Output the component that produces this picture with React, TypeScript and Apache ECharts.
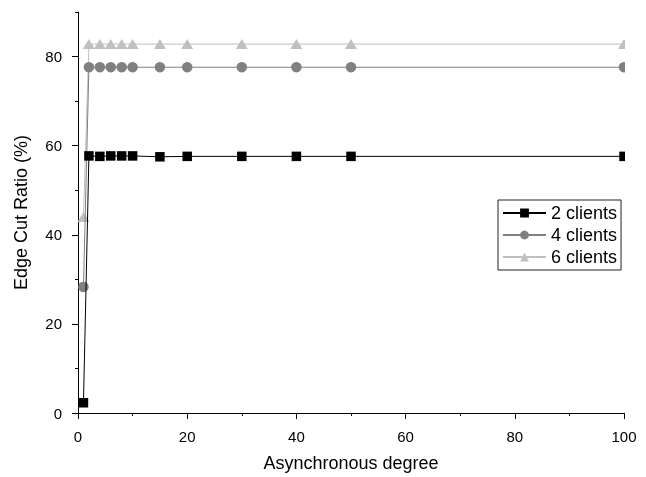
import React, { useEffect, useRef } from "react";
import * as echarts from "echarts";

const degrees = [1, 2, 4, 6, 8, 10, 15, 20, 30, 40, 50, 100];
const clients2 = [2.3, 57.7, 57.6, 57.7, 57.7, 57.7, 57.5, 57.6, 57.6, 57.6, 57.6, 57.6];
const clients4 = [28.3, 77.6, 77.6, 77.6, 77.6, 77.6, 77.6, 77.6, 77.6, 77.6, 77.6, 77.6];
const clients6 = [44.0, 82.8, 82.8, 82.8, 82.8, 82.8, 82.8, 82.8, 82.8, 82.8, 82.8, 82.8];
const seriesNames = ["2 clients", "4 clients", "6 clients"];
const yLabels = [0, 20, 40, 60, 80];

const FONT = "'Liberation Sans', Arial, sans-serif";

export default function App() {
  const ref = useRef<HTMLDivElement>(null);
  useEffect(() => {
    if (!ref.current) return;
    const chart = echarts.init(ref.current, undefined, { renderer: "svg" });
    const pair = (ys: number[]) => degrees.map((x, i) => [x, ys[i]]);
    const mk = (name: string, ys: number[], color: string, symbol: string, size: number | number[], z: number) => ({
      name,
      type: "line",
      data: pair(ys),
      symbol,
      symbolSize: size,
      showSymbol: true,
      clip: true,
      z,
      itemStyle: { color },
      lineStyle: { color, width: 1 },
      emphasis: { disabled: true },
    });
    chart.setOption({
      animation: false,
      textStyle: { fontFamily: FONT },
      grid: { left: 78, right: 22, top: 12, bottom: 61, containLabel: false },
      legend: {
        orient: "vertical",
        left: 498,
        top: 200,
        padding: [4, 4, 4, 4],
        itemWidth: 43,
        itemHeight: 11,
        itemGap: 4,
        borderColor: "#222",
        borderWidth: 1,
        textStyle: { fontSize: 18, color: "#000", fontFamily: FONT },
        data: seriesNames,
      },
      xAxis: {
        type: "value",
        min: 0,
        max: 100,
        interval: 20,
        name: "Asynchronous degree",
        nameLocation: "middle",
        nameGap: 41,
        nameTextStyle: { fontSize: 18, color: "#000", fontFamily: FONT },
        axisLine: { show: true, onZero: false, lineStyle: { color: "#000", width: 1 } },
        axisTick: { show: true, length: 6, lineStyle: { color: "#000" } },
        minorTick: { show: true, splitNumber: 2, length: 3, lineStyle: { color: "#000" } },
        axisLabel: { fontSize: 15, color: "#000", margin: 16, fontFamily: FONT },
        splitLine: { show: false },
      },
      yAxis: [
        {
          type: "value",
          min: 0,
          max: 90,
          interval: 10,
          name: "Edge Cut Ratio (%)",
          nameLocation: "middle",
          nameGap: 48,
          nameTextStyle: { fontSize: 18, color: "#000", fontFamily: FONT },
          axisLine: { show: true, onZero: false, lineStyle: { color: "#000", width: 1 } },
          axisTick: { show: true, length: 3, lineStyle: { color: "#000" } },
          axisLabel: {
            fontSize: 15,
            color: "#000",
            margin: 16,
            fontFamily: FONT,
            formatter: (v: number) => (yLabels.includes(v) ? String(v) : ""),
          },
          splitLine: { show: false },
        },
        {
          type: "value",
          min: 0,
          max: 90,
          interval: 10,
          position: "left",
          axisLine: { show: false },
          axisTick: { show: true, length: 6, customValues: yLabels, lineStyle: { color: "#000" } },
          axisLabel: { show: false },
          splitLine: { show: false },
        },
      ],
      series: [
        mk(seriesNames[2], clients6, "#c0c0c0", "triangle", [12, 10], 2),
        mk(seriesNames[1], clients4, "#808080", "circle", 10.5, 3),
        mk(seriesNames[0], clients2, "#000000", "rect", 9.5, 4),
      ],
      graphic: [
        {
          type: "rect",
          left: 625,
          top: 0,
          shape: { width: 21, height: 415 },
          style: { fill: "#fff" },
          z: 100,
          silent: true,
        },
      ],
    });
    return () => chart.dispose();
  }, []);
  return <div ref={ref} style={{ position: "fixed", left: 0, top: 0, width: 646, height: 477 }} />;
}
